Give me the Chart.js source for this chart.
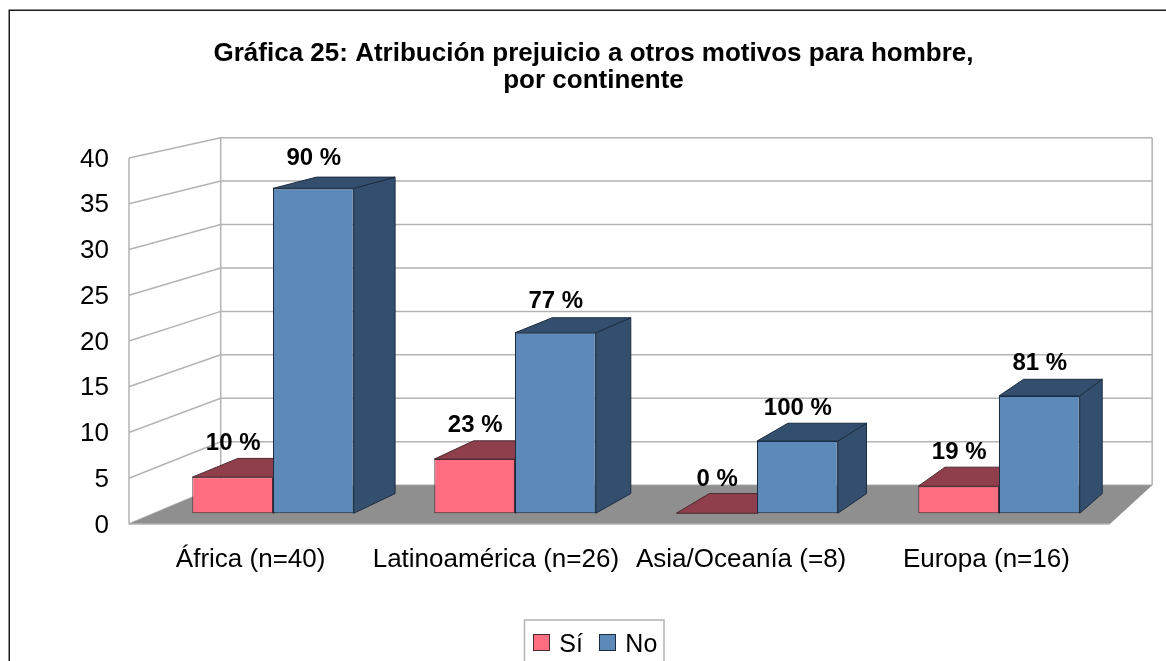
<!DOCTYPE html>
<html><head><meta charset="utf-8">
<style>html,body{margin:0;padding:0;background:#fff}canvas{display:block}</style>
<script src="https://cdn.jsdelivr.net/npm/chart.js@4"></script>
</head><body><canvas id="c" width="1166" height="661"></canvas>
<script>
const categories = ["África (n=40)", "Latinoamérica (n=26)", "Asia/Oceanía (=8)", "Europa (n=16)"];
const valuesSi = [4, 6, 0, 3];
const valuesNo = [36, 20, 8, 13];
const percentSi = ["10 %", "23 %", "0 %", "19 %"];
const percentNo = ["90 %", "77 %", "100 %", "81 %"];
const yTicks = [0, 5, 10, 15, 20, 25, 30, 35, 40];
const seriesNames = ["Sí", "No"];
const seriesColors = ['#ff6d80', '#5c89b8'];
const seriesLines = ['#4b2a30', '#1b2c40'];
const seriesShades = ['#8e3f4b', '#344f6d'];

const FONT = '"Liberation Sans", Arial, sans-serif';
const VP = {x: 1945, y: -245};
const WALL_K = 0.0505, BAR_K = 0.026;
const WALL_LEFT = 129, WALL_RIGHT = 1110;
const project = (x, y, k) => [x + k * (VP.x - x), y + k * (VP.y - y)];

function poly(ctx, pts, fill, stroke) {
  ctx.beginPath();
  pts.forEach((p, i) => i ? ctx.lineTo(p[0], p[1]) : ctx.moveTo(p[0], p[1]));
  ctx.closePath();
  if (fill) { ctx.fillStyle = fill; ctx.fill(); }
  if (stroke) { ctx.strokeStyle = stroke; ctx.lineWidth = 1; ctx.stroke(); }
}

const scene = {
  id: 'scene',
  beforeDraw(chart) {
    const ctx = chart.ctx, y = chart.scales.y, x = chart.scales.x;
    const items = x.getLabelItems();
    if (!items._moved) {
      items.forEach((it, i) => {
        it.options.translation[0] = WALL_LEFT + (i + 0.5) * (WALL_RIGHT - WALL_LEFT) / categories.length - 1;
      });
      y.getLabelItems().forEach(it => { it.options.translation[1] += 1.5; });
      items._moved = true;
    }
    ctx.save();
    ctx.strokeStyle = '#1c1c1c'; ctx.lineWidth = 1.5;
    ctx.beginPath(); ctx.moveTo(9.25, 661); ctx.lineTo(9.25, 10.25); ctx.lineTo(1166, 10.25); ctx.stroke();
    const y0 = y.getPixelForValue(0), yTop = y.getPixelForValue(40);
    ctx.strokeStyle = '#b3b3b3'; ctx.lineWidth = 1.5;
    const bTL = project(WALL_LEFT, yTop, WALL_K), bBL = project(WALL_LEFT, y0, WALL_K);
    const bBR = project(WALL_RIGHT, y0, WALL_K);
    yTicks.forEach(v => {
      const py = y.getPixelForValue(v);
      const b = project(WALL_LEFT, py, WALL_K);
      ctx.beginPath(); ctx.moveTo(WALL_LEFT, py); ctx.lineTo(b[0], b[1]); ctx.lineTo(bBR[0], b[1]); ctx.stroke();
    });
    ctx.beginPath(); ctx.moveTo(WALL_LEFT, yTop); ctx.lineTo(WALL_LEFT, y0); ctx.stroke();
    ctx.beginPath(); ctx.moveTo(bTL[0], bTL[1]); ctx.lineTo(bBL[0], bBL[1]); ctx.stroke();
    ctx.beginPath(); ctx.moveTo(bBR[0], bTL[1]); ctx.lineTo(bBR[0], bBR[1]); ctx.stroke();
    poly(ctx, [[WALL_LEFT, y0], [WALL_RIGHT, y0], bBR, bBL], '#8f8f8f');
    ctx.beginPath(); ctx.moveTo(WALL_LEFT, y0); ctx.lineTo(WALL_RIGHT, y0); ctx.stroke();
    ctx.restore();
  },
  beforeDatasetsDraw(chart) {
    const ctx = chart.ctx;
    ctx.save();
    chart.data.datasets.forEach((ds, d) => {
      chart.getDatasetMeta(d).data.forEach(bar => {
        const l = bar.x - bar.width / 2, r = bar.x + bar.width / 2, t = bar.y, b = bar.base;
        poly(ctx, [[r, t], [r, b], project(r, b, BAR_K), project(r, t, BAR_K)], seriesShades[d], seriesLines[d]);
        poly(ctx, [[l, t], [r, t], project(r, t, BAR_K), project(l, t, BAR_K)], seriesShades[d], seriesLines[d]);
      });
    });
    ctx.restore();
  },
  afterDraw(chart) {
    const ctx = chart.ctx;
    ctx.save();
    ctx.font = 'bold 24px ' + FONT; ctx.fillStyle = '#000';
    ctx.textAlign = 'center'; ctx.textBaseline = 'middle';
    [percentSi, percentNo].forEach((labels, d) => {
      chart.getDatasetMeta(d).data.forEach((bar, i) => {
        ctx.fillText(labels[i], bar.x + 0.5, bar.y - 34 + 0.0123 * (bar.base - bar.y));
      });
    });
    // legend frame and swatches (closer to the text than the library's fixed gap)
    ctx.strokeStyle = '#b3b3b3'; ctx.lineWidth = 1.5;
    ctx.beginPath(); ctx.moveTo(524.5, 661); ctx.lineTo(524.5, 620); ctx.lineTo(664, 620); ctx.lineTo(664, 661); ctx.stroke();
    chart.legend.legendHitBoxes.forEach((h, i) => {
      ctx.fillStyle = seriesColors[i]; ctx.strokeStyle = seriesLines[i]; ctx.lineWidth = 1;
      ctx.fillRect(Math.round(h.left) + 3.5, 634.5, 16, 16);
      ctx.strokeRect(Math.round(h.left) + 3.5, 634.5, 16, 16);
    });
    ctx.restore();
  }
};

new Chart(document.getElementById('c'), {
  type: 'bar',
  data: {
    labels: categories,
    datasets: [
      {label: seriesNames[0], data: valuesSi, yAxisID: 'yBar', backgroundColor: seriesColors[0], borderColor: seriesLines[0], borderWidth: 1, borderSkipped: false},
      {label: seriesNames[1], data: valuesNo, yAxisID: 'yBar', backgroundColor: seriesColors[1], borderColor: seriesLines[1], borderWidth: 1, borderSkipped: false}
    ]
  },
  plugins: [scene],
  options: {
    responsive: false, animation: false, clip: false,
    events: [],
    layout: {padding: {left: 67, right: 46, top: 0, bottom: -7}},
    datasets: {bar: {categoryPercentage: 0.667, barPercentage: 1}},
    scales: {
      x: {
        grid: {display: false, drawTicks: false}, border: {display: false},
        ticks: {font: {family: FONT, size: 26}, color: '#000', padding: 20, maxRotation: 0, autoSkip: false},
        afterFit(s) { s.height = 96; }
      },
      y: {
        min: 0, max: 40, position: 'left',
        afterBuildTicks(s) { s.ticks = yTicks.map(value => ({value})); },
        grid: {display: false, drawTicks: false}, border: {display: false},
        ticks: {font: {family: FONT, size: 26}, color: '#000', padding: 43},
        afterFit(s) { s.width = 85; }
      },
      yBar: {display: false, min: -1.189, max: 39.367}
    },
    plugins: {
      tooltip: {enabled: false},
      title: {
        display: true,
        text: ["Gráfica 25: Atribución prejuicio a otros motivos para hombre,", "por continente"],
        color: '#000',
        font: {family: FONT, size: 26, weight: 'bold', lineHeight: 27 / 26},
        padding: {top: 40.5, bottom: 63.5}
      },
      legend: {
        position: 'bottom',
        labels: {
          font: {family: FONT, size: 25}, color: '#000', boxWidth: 17, boxHeight: 17, padding: 13,
          generateLabels: c => c.data.datasets.map((ds, i) => ({
            text: ds.label, datasetIndex: i, fontColor: '#000',
            fillStyle: 'rgba(0,0,0,0)', strokeStyle: 'rgba(0,0,0,0)', lineWidth: 0, hidden: false
          }))
        }
      }
    }
  }
});
</script></body></html>
